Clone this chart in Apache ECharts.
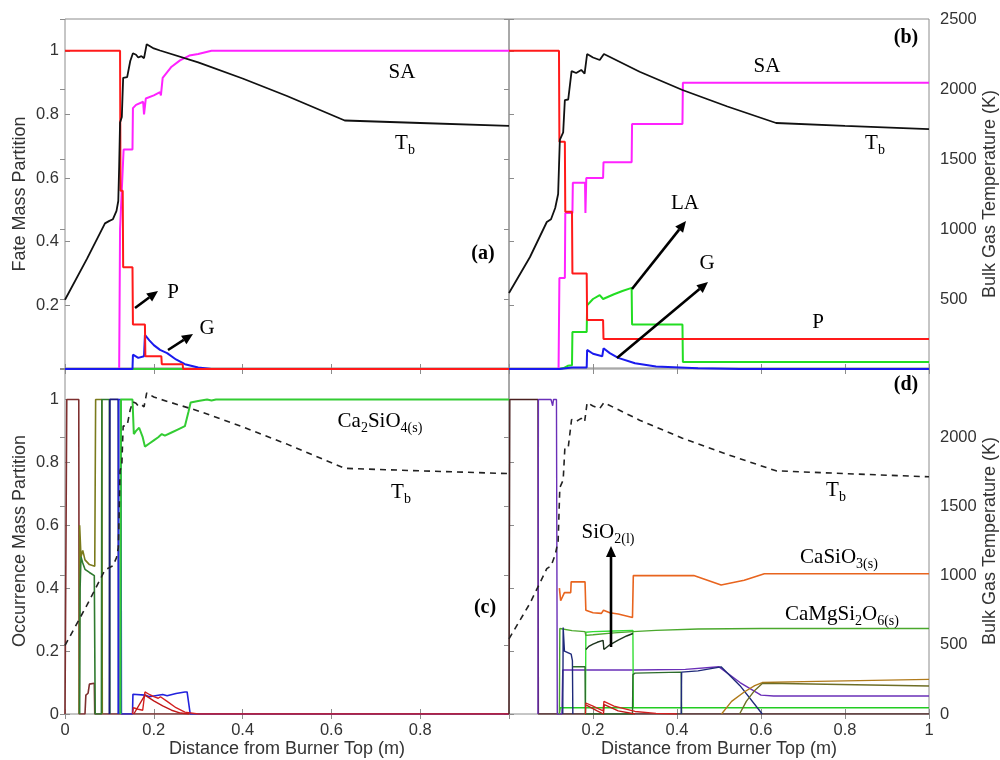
<!DOCTYPE html>
<html>
<head>
<meta charset="utf-8">
<title>Fate and occurrence mass partition</title>
<script src="https://cdn.jsdelivr.net/npm/echarts@6/dist/echarts.min.js"></script>
<style>
  html, body { margin: 0; padding: 0; background: #fff; }
  #chart { width: 1000px; height: 760px; }
</style>
</head>
<body>
<div id="chart"></div>
<script>
// every series is a list of [distance from burner top (m), value]

// bulk gas temperature (K)
const tbLeft = [[0,495],[0.05,790],[0.09,1040],[0.1,1058],[0.108,1070],[0.116,1130],[0.12,1200],[0.122,1450],[0.124,1760],[0.128,1800],[0.131,2080],[0.14,2085],[0.147,2200],[0.153,2255],[0.16,2245],[0.165,2225],[0.172,2235],[0.178,2220],[0.184,2320],[0.2,2290],[0.214,2275],[0.218,2285],[0.3,2190],[0.4,2075],[0.5,1950],[0.63,1775],[0.8,1757],[1,1737]]
const tbRight = [[0,543],[0.05,800],[0.09,1050],[0.1,1070],[0.11,1150],[0.117,1250],[0.121,1636],[0.129,1690],[0.133,1921],[0.141,1925],[0.149,2128],[0.16,2114],[0.166,2125],[0.172,2136],[0.18,2110],[0.186,2250],[0.2,2225],[0.216,2207],[0.226,2250],[0.311,2123],[0.413,1993],[0.52,1875],[0.636,1757],[0.8,1737],[1,1714]]

// (a) fate mass partition
const aP = [[0,1],[0.124,1],[0.125,0.56],[0.13,0.56],[0.131,0.32],[0.152,0.32],[0.153,0.14],[0.18,0.14],[0.181,0.04],[0.217,0.04],[0.218,0.015],[0.265,0.015],[0.266,0],[1,0]]
const aSA = [[0,0],[0.122,0],[0.124,0.44],[0.132,0.69],[0.152,0.69],[0.153,0.82],[0.16,0.83],[0.176,0.84],[0.178,0.8],[0.182,0.85],[0.2,0.86],[0.214,0.87],[0.216,0.86],[0.22,0.915],[0.24,0.95],[0.259,0.97],[0.28,0.985],[0.3,0.99],[0.33,1],[1,1]]
const aG = [[0,0],[0.152,0],[0.153,0.045],[0.165,0.035],[0.178,0.04],[0.18,0.107],[0.19,0.09],[0.2,0.075],[0.214,0.06],[0.218,0.066],[0.23,0.05],[0.25,0.03],[0.27,0.015],[0.3,0.005],[0.33,0],[1,0]]
const aLA = [[0.124,0],[1,0]]

// (b) fate mass partition
const bP = [[0,1],[0.119,1],[0.12,0.714],[0.133,0.714],[0.134,0.494],[0.15,0.494],[0.151,0.3],[0.185,0.3],[0.186,0.154],[0.224,0.154],[0.225,0.094],[1,0.094]]
const bSA = [[0,0],[0.118,0],[0.12,0.286],[0.133,0.286],[0.134,0.49],[0.151,0.49],[0.152,0.585],[0.181,0.585],[0.182,0.49],[0.184,0.6],[0.224,0.6],[0.225,0.65],[0.292,0.65],[0.293,0.77],[0.413,0.77],[0.414,0.9],[1,0.9]]
const bLA = [[0,0],[0.12,0],[0.13,0.003],[0.14,0.01],[0.15,0.012],[0.151,0.116],[0.185,0.116],[0.186,0.2],[0.2,0.22],[0.216,0.232],[0.224,0.22],[0.25,0.235],[0.27,0.245],[0.292,0.255],[0.293,0.14],[0.413,0.14],[0.414,0.022],[1,0.022]]
const bG = [[0,0],[0.12,0],[0.15,0.005],[0.185,0.005],[0.186,0.06],[0.2,0.048],[0.222,0.04],[0.225,0.065],[0.24,0.05],[0.26,0.035],[0.3,0.018],[0.35,0.008],[0.45,0.002],[0.55,0],[1,0]]

// (c) occurrence mass partition
const cBrown = [[0,0],[0.004,1],[0.031,1],[0.032,0],[0.045,0],[0.047,0.06],[0.052,0.066],[0.055,0.095],[0.066,0.098],[0.067,0],[1,0]]
const cOlive = [[0.032,0],[0.033,0.6],[0.036,0.5],[0.04,0.52],[0.045,0.49],[0.055,0.475],[0.067,0.47],[0.069,1],[0.083,1],[0.084,0]]
const cGreenDark = [[0.033,0],[0.034,0.4],[0.036,0.5],[0.04,0.48],[0.045,0.46],[0.055,0.45],[0.066,0.44],[0.068,0],[0.082,0],[0.083,1],[0.1,1],[0.101,0]]
const cNavy = [[0.1,0],[0.101,1],[0.12,1],[0.121,0]]
const cBlue = [[0.12,0],[0.121,1],[0.126,1],[0.127,0],[0.152,0],[0.153,0.063],[0.18,0.06],[0.19,0.055],[0.22,0.062],[0.23,0.058],[0.25,0.065],[0.27,0.07],[0.275,0.07],[0.282,0],[1,0]]
const cCa2SiO4 = [[0.125,0],[0.126,1],[0.152,1],[0.155,0.89],[0.16,0.9],[0.167,0.91],[0.175,0.88],[0.18,0.85],[0.19,0.86],[0.2,0.87],[0.21,0.88],[0.218,0.89],[0.225,0.885],[0.24,0.895],[0.255,0.905],[0.27,0.915],[0.278,0.96],[0.283,0.99],[0.3,0.995],[0.32,1],[0.33,0.997],[0.34,1],[1,1]]
const cRed1 = [[0.152,0],[0.154,0.02],[0.165,0.015],[0.175,0.012],[0.18,0.07],[0.19,0.062],[0.2,0.055],[0.21,0.05],[0.215,0.055],[0.23,0.04],[0.25,0.02],[0.27,0.006],[0.3,0],[1,0]]
const cRed2 = [[0.155,0],[0.18,0.06],[0.2,0.042],[0.22,0.026],[0.24,0.012],[0.26,0.003],[0.28,0]]

// (d) occurrence mass partition
const dBrown = [[0,0],[0.002,1],[0.069,1],[0.07,0],[1,0]]
const dPurple = [[0.069,0],[0.07,1],[0.1,1],[0.104,0.98],[0.106,1],[0.113,1],[0.115,0],[0.126,0],[0.128,0.14],[0.3,0.14],[0.42,0.142],[0.5,0.15],[0.55,0.1],[0.6,0.06],[0.63,0.057],[1,0.057]]
const dCaSiO3 = [[0.12,0.4],[0.123,0.36],[0.132,0.386],[0.147,0.386],[0.148,0.42],[0.181,0.42],[0.183,0.33],[0.2,0.322],[0.22,0.32],[0.225,0.33],[0.24,0.322],[0.26,0.318],[0.294,0.307],[0.296,0.44],[0.44,0.44],[0.505,0.41],[0.56,0.425],[0.608,0.446],[1,0.446]]
const dCaMgSi2O6 = [[0.12,0],[0.121,0.272],[0.15,0.265],[0.181,0.262],[0.183,0.25],[0.2,0.252],[0.25,0.258],[0.295,0.262],[0.35,0.266],[0.45,0.27],[0.6,0.272],[1,0.272]]
const dSiO2 = [[0.183,0.205],[0.19,0.215],[0.2,0.222],[0.21,0.228],[0.224,0.234],[0.226,0.205],[0.24,0.22],[0.26,0.235],[0.28,0.248],[0.295,0.256]]
const dGreen1 = [[0.12,0],[0.122,0.02],[1,0.02]]
const dGreen2 = [[0.182,0],[0.183,0.26],[0.2,0.262],[0.25,0.264],[0.295,0.266],[0.296,0.02]]
const dNavy1 = [[0.128,0],[0.129,0.275],[0.131,0.275],[0.132,0.2],[0.134,0.195],[0.148,0.19],[0.151,0.17],[0.152,0]]
const dDarkGreen = [[0.152,0.15],[0.181,0.15],[0.182,0],[0.294,0],[0.295,0.125],[0.3,0.13],[0.41,0.133],[0.411,0]]
const dNavy2 = [[0.41,0],[0.411,0.133],[0.45,0.137],[0.505,0.15],[0.55,0.09],[0.603,0]]
const dGold = [[0.506,0],[0.53,0.04],[0.56,0.07],[0.585,0.09],[0.603,0.1],[0.7,0.103],[1,0.11]]
const dOlive = [[0.549,0],[0.565,0.04],[0.585,0.075],[0.603,0.097],[0.65,0.097],[1,0.089]]
const dRed1 = [[0.182,0],[0.183,0.035],[0.2,0.025],[0.224,0.01],[0.226,0.04],[0.25,0.025],[0.3,0.008],[0.35,0.002],[0.4,0]]
const dRed2 = [[0.184,0.028],[0.21,0.01],[0.225,0],[0.227,0.03],[0.26,0.01],[0.3,0]]

const SANS = '"Liberation Sans", Arial, sans-serif'
const SERIF = '"Liberation Serif", "Times New Roman", serif'
const BOX = '#8c8c8c'

let dom = document.getElementById('chart')
let myChart = echarts.init(dom)

const grids = [
  {left: 65, top: 19, width: 444, height: 350},
  {left: 509, top: 19, width: 421, height: 350},
  {left: 65, top: 368, width: 444, height: 346},
  {left: 509, top: 368, width: 421, height: 346}
].map(g => Object.assign(g, {show: true, borderColor: BOX, borderWidth: 1, containLabel: false}))

function tick() {
  return {show: true, inside: true, length: 5, lineStyle: {color: BOX}}
}

function xAx(gridIndex, pos, label, minL, maxL, name) {
  return {
    type: 'value', gridIndex: gridIndex, position: pos, min: 0, max: 1, interval: 0.2,
    axisLine: {show: false}, axisTick: tick(), splitLine: {show: false},
    axisLabel: {show: label, showMinLabel: minL, showMaxLabel: maxL, margin: 8,
      fontFamily: SANS, fontSize: 16.5, color: '#333', formatter: v => String(v)},
    name: name || '', nameLocation: 'middle', nameGap: 25,
    nameTextStyle: {fontFamily: SANS, fontSize: 18, color: '#333'}
  }
}

function yAx(gridIndex, pos, isTemp, label, minL, maxL, name) {
  return {
    type: 'value', gridIndex: gridIndex, position: pos, min: 0,
    max: isTemp ? 2500 : 1.1, interval: isTemp ? 500 : 0.2,
    axisLine: {show: false}, axisTick: tick(), splitLine: {show: false},
    axisLabel: {show: label, showMinLabel: minL, showMaxLabel: maxL, margin: isTemp ? 11 : 6,
      fontFamily: SANS, fontSize: 16.5, color: '#333', formatter: v => String(v)},
    name: name || '', nameLocation: 'middle', nameGap: isTemp ? 52 : 36,
    nameTextStyle: {fontFamily: SANS, fontSize: 18, color: '#333'}
  }
}

const xAxes = [
  xAx(0, 'bottom', false), xAx(1, 'bottom', false),
  xAx(2, 'bottom', true, true, false, 'Distance from Burner Top (m)'),
  xAx(3, 'bottom', true, false, true, 'Distance from Burner Top (m)'),
  xAx(0, 'top', false), xAx(1, 'top', false), xAx(2, 'top', false), xAx(3, 'top', false)
]

const yAxes = [
  yAx(0, 'left', false, true, false, false, 'Fate Mass Partition'),
  yAx(0, 'right', true, false),
  yAx(1, 'left', false, false),
  yAx(1, 'right', true, true, false, true, 'Bulk Gas Temperature (K)'),
  yAx(2, 'left', false, true, true, false, 'Occurrence Mass Partition'),
  yAx(2, 'right', true, false),
  yAx(3, 'left', false, false),
  yAx(3, 'right', true, true, true, false, 'Bulk Gas Temperature (K)')
]

// panel -> [xAxisIndex, left yAxisIndex, right yAxisIndex]
const panels = {a: [0, 0, 1], b: [1, 2, 3], c: [2, 4, 5], d: [3, 6, 7]}

function line(panel, data, color, width, temp, dashed) {
  let p = panels[panel]
  return {
    type: 'line', xAxisIndex: p[0], yAxisIndex: temp ? p[2] : p[1],
    data: data, showSymbol: false, symbol: 'none', animation: false,
    lineStyle: {color: color, width: width, type: dashed ? [6, 5] : 'solid'},
    z: 2
  }
}

const series = [
  // (a)
  line('a', aLA, '#33cc33', 2),
  line('a', aSA, '#ff22ff', 2),
  line('a', aG, '#1a1aee', 2),
  line('a', aP, '#ff1a1a', 2),
  line('a', tbLeft, '#111', 1.8, true),
  // (b)
  line('b', bSA, '#ff22ff', 2),
  line('b', bLA, '#22dd22', 2),
  line('b', bG, '#1a1aee', 2),
  line('b', bP, '#ff1a1a', 2),
  line('b', tbRight, '#111', 1.8, true),
  // (c)
  line('c', cBrown, '#7e2f2f', 1.6),
  line('c', cOlive, '#7a7a1c', 1.6),
  line('c', cGreenDark, '#2f7a2f', 1.6),
  line('c', cNavy, '#1a1a7a', 1.8),
  line('c', cBlue, '#2222dd', 1.6),
  line('c', cRed1, '#d42020', 1.4),
  line('c', cRed2, '#c01818', 1.4),
  line('c', cCa2SiO4, '#33cc33', 2),
  line('c', tbLeft, '#222', 1.6, true, true),
  // (d)
  line('d', dBrown, '#4a2020', 1.4),
  line('d', dPurple, '#6a2fb8', 1.4),
  line('d', dGreen1, '#22cc22', 1.4),
  line('d', dGreen2, '#33dd33', 1.4),
  line('d', dCaMgSi2O6, '#4aa82c', 1.4),
  line('d', dSiO2, '#1c331c', 1.4),
  line('d', dNavy1, '#1f2a7a', 1.4),
  line('d', dDarkGreen, '#2d6b2d', 1.4),
  line('d', dNavy2, '#1f2a7a', 1.4),
  line('d', dGold, '#b07a1a', 1.4),
  line('d', dOlive, '#6e6e26', 1.4),
  line('d', dRed1, '#d42020', 1.3),
  line('d', dRed2, '#c01818', 1.3),
  line('d', dCaSiO3, '#e8641e', 1.6),
  line('d', tbRight, '#222', 1.6, true, true)
]

// annotation helpers
const rich = {
  n: {fontFamily: SERIF, fontSize: 21, lineHeight: 28, color: '#000'},
  s: {fontFamily: SERIF, fontSize: 14, lineHeight: 14, verticalAlign: 'bottom', color: '#000'},
  bd: {fontFamily: SERIF, fontSize: 20, fontWeight: 'bold', lineHeight: 28, color: '#000'}
}

function label(x, y, txt) {
  return {type: 'text', x: x, y: y, z: 10, silent: true,
    style: {text: txt, rich: rich, align: 'center', verticalAlign: 'middle', fill: '#000'}}
}

function arrow(x1, y1, x2, y2) {
  let a = Math.atan2(y2 - y1, x2 - x1), L = 11, W = 5
  let bx = x2 - L * Math.cos(a), by = y2 - L * Math.sin(a)
  return [
    {type: 'line', z: 10, silent: true, shape: {x1: x1, y1: y1, x2: bx, y2: by},
      style: {stroke: '#000', lineWidth: 2.6}},
    {type: 'polygon', z: 10, silent: true,
      shape: {points: [[x2, y2], [bx + W * Math.sin(a), by - W * Math.cos(a)], [bx - W * Math.sin(a), by + W * Math.cos(a)]]},
      style: {fill: '#000'}}
  ]
}

const graphic = [
  label(402, 72, '{n|SA}'),
  label(405, 143, '{n|T}{s|b}'),
  label(483, 254, '{bd|(a)}'),
  label(173, 292, '{n|P}'),
  label(207, 328, '{n|G}'),
  label(906, 38, '{bd|(b)}'),
  label(767, 66, '{n|SA}'),
  label(875, 143, '{n|T}{s|b}'),
  label(685, 203, '{n|LA}'),
  label(707, 263, '{n|G}'),
  label(818, 322, '{n|P}'),
  label(380, 421, '{n|Ca}{s|2}{n|SiO}{s|4(s)}'),
  label(401, 492, '{n|T}{s|b}'),
  label(485, 608, '{bd|(c)}'),
  label(906, 385, '{bd|(d)}'),
  label(836, 490, '{n|T}{s|b}'),
  label(608, 532, '{n|SiO}{s|2(l)}'),
  label(839, 557, '{n|CaSiO}{s|3(s)}'),
  label(842, 614, '{n|CaMgSi}{s|2}{n|O}{s|6(s)}')
].concat(
  arrow(135, 308, 158, 291),
  arrow(168, 350, 193, 334),
  arrow(632, 289, 686, 221),
  arrow(617, 358, 708, 282),
  arrow(611, 647, 611, 546)
)

let option = {
  backgroundColor: '#fff',
  animation: false,
  grid: grids,
  xAxis: xAxes,
  yAxis: yAxes,
  series: series,
  graphic: graphic
}

myChart.setOption(option, true)
</script>
</body>
</html>
